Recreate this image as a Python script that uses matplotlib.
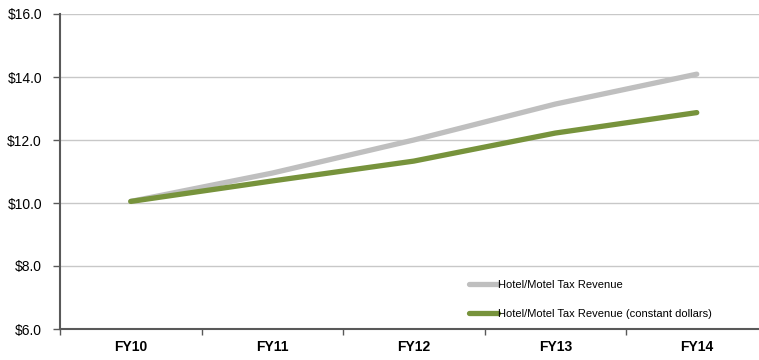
import matplotlib.pyplot as plt
import numpy as np

# hotel/motel tax revenue, $ millions
years = ['FY10', 'FY11', 'FY12', 'FY13', 'FY14']
revenue = [10.05, 10.95, 12.00, 13.14, 14.09]
revenue_const = [10.05, 10.70, 11.33, 12.22, 12.87]

plt.rcParams['font.family'] = ['Liberation Sans', 'DejaVu Sans']

fig = plt.figure(figsize=(7.59, 3.6), dpi=100)
ax = fig.add_axes([60/759, 1-329/360, 707.5/759, 315/360])

x = np.arange(len(years))
ax.plot(x, revenue, color='#bfbfbf', lw=3.8, solid_capstyle='round',
        label='Hotel/Motel Tax Revenue', zorder=3)
ax.plot(x, revenue_const, color='#77933c', lw=3.8, solid_capstyle='round',
        label='Hotel/Motel Tax Revenue (constant dollars)', zorder=4)

ax.set_xlim(-0.5, len(years)-0.5)
ax.set_ylim(6, 16)
ax.set_yticks(np.arange(6, 16.1, 2))
ax.set_yticklabels(['$%.1f' % v for v in np.arange(6, 16.1, 2)], fontsize=10)
ax.set_xticks(x)
ax.set_xticklabels(years, fontsize=10, fontweight='bold')
ax.set_xticks(np.arange(-0.5, len(years), 1), minor=True)
ax.tick_params(axis='x', which='major', length=0, pad=8)
ax.tick_params(axis='x', which='minor', length=4, color='#595959', width=1)
ax.tick_params(axis='y', length=5, color='#595959', width=1, pad=8)

ax.grid(axis='y', color='#c8c8c8', lw=1)
ax.set_axisbelow(True)
for s in ['top', 'right']:
    ax.spines[s].set_visible(False)
for s in ['left', 'bottom']:
    ax.spines[s].set_color('#595959')
    ax.spines[s].set_linewidth(1.5)
ax.spines['bottom'].set_zorder(5)

ax.legend(loc='lower left', bbox_to_anchor=(0.564, 0.0), frameon=False,
          fontsize=8, handlelength=2.6, handletextpad=0.05,
          labelspacing=1.75)

fig.savefig('out.png', dpi=100)
